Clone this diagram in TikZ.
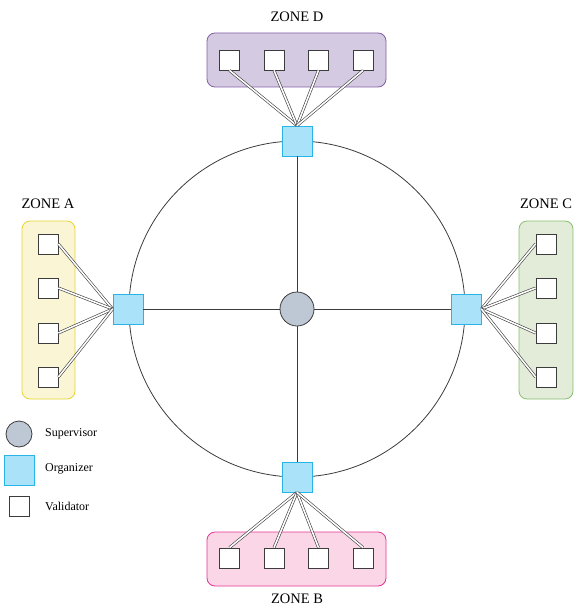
\documentclass[tikz,border=0pt]{standalone}
\usepackage{fontspec}
\setmainfont{Liberation Serif}
\definecolor{dfill}{RGB}{212,202,226}
\definecolor{ddraw}{RGB}{130,95,165}
\definecolor{afill}{RGB}{250,245,212}
\definecolor{adraw}{RGB}{232,212,50}
\definecolor{cfill}{RGB}{226,236,216}
\definecolor{cdraw}{RGB}{135,192,112}
\definecolor{bfill}{RGB}{250,214,230}
\definecolor{bdraw}{RGB}{228,52,150}
\definecolor{ofill}{RGB}{170,226,250}
\definecolor{odraw}{RGB}{40,180,230}
\definecolor{sfill}{RGB}{190,200,212}
\definecolor{lgray}{RGB}{60,60,60}
\begin{document}
\begin{tikzpicture}[x=1pt,y=-1pt,
  validator/.style={draw=lgray,fill=white,line width=0.8pt,minimum size=20pt,inner sep=0pt},
  organizer/.style={draw=odraw,fill=ofill,line width=0.8pt,minimum size=30pt,inner sep=0pt},
  supervisor/.style={circle,draw=lgray,fill=sfill,line width=0.8pt,minimum size=34pt,inner sep=0pt},
  link/.style={draw=lgray,line width=0.6pt,double=white,double distance=1.6pt},
  spoke/.style={draw=lgray,line width=0.8pt},
  zonebox/.style={rounded corners=8pt,line width=0.8pt},
  zonelabel/.style={font=\fontsize{14.5}{17}\selectfont,inner sep=0pt},
  legendlabel/.style={font=\fontsize{12}{14}\selectfont,anchor=west,inner sep=0pt}]
\useasboundingbox (0,0) rectangle (575,607);
% zone boxes
\draw[zonebox,draw=ddraw,fill=dfill] (207,33) rectangle (386,87);
\draw[zonebox,draw=bdraw,fill=bfill] (207,532) rectangle (386,586);
\draw[zonebox,draw=adraw,fill=afill] (22,221) rectangle (75,399);
\draw[zonebox,draw=cdraw,fill=cfill] (519,221) rectangle (573,399);
% labels
\node[zonelabel] (lD) at (297,17) {ZONE D};
\node[zonelabel] (lB) at (297,598.5) {ZONE B};
\node[zonelabel] (lA) at (48,204) {ZONE A};
\node[zonelabel] (lC) at (546,204) {ZONE C};
% ring
\draw[spoke] (297,309) circle (168);
% nodes
\node[supervisor] (s) at (297,309) {};
\node[organizer] (oD) at (297,141) {};
\node[organizer] (oB) at (297,477) {};
\node[organizer] (oA) at (128,309) {};
\node[organizer] (oC) at (466,309) {};
\draw[spoke] (s) -- (oD);
\draw[spoke] (s) -- (oB);
\draw[spoke] (s) -- (oA);
\draw[spoke] (s) -- (oC);
\foreach \i/\x in {1/229.5,2/274,3/318.5,4/363}{
  \node[validator] (d\i) at (\x,60) {};
  \node[validator] (b\i) at (\x,558) {};
  \draw[link] (d\i.south) -- (oD.north);
  \draw[link] (b\i.north) -- (oB.south);
}
\foreach \i/\y in {1/244,2/288,3/333,4/377}{
  \node[validator] (a\i) at (48,\y) {};
  \node[validator] (c\i) at (546,\y) {};
  \draw[link] (a\i.east) -- (oA.west);
  \draw[link] (c\i.west) -- (oC.east);
}
% legend
\node[supervisor,minimum size=26pt] (ls) at (19,434) {};
\node[organizer] (lo) at (19,470) {};
\node[validator] (lv) at (19.5,506) {};
\node[legendlabel] (tls) at (45,434) {Supervisor};
\node[legendlabel] (tlo) at (45,469) {Organizer};
\node[legendlabel] (tlv) at (45,506) {Validator};
\end{tikzpicture}
\end{document}
